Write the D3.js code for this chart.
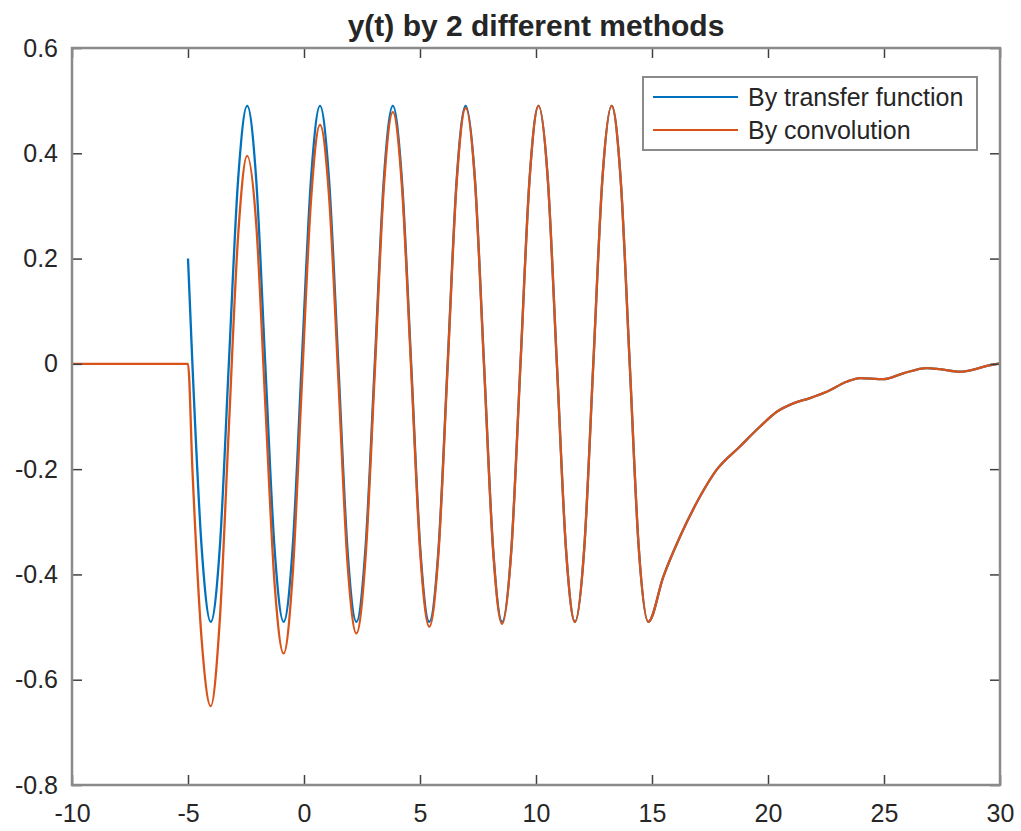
<!DOCTYPE html>
<html>
<head>
<meta charset="utf-8">
<script src="https://cdn.jsdelivr.net/npm/d3@7"></script>
<style>
  body { margin: 0; background: #fff; }
  text { font-family: "Liberation Sans", Arial, sans-serif; fill: #262626; }
</style>
</head>
<body>
<svg width="1021" height="831"></svg>
<script>
// chart text
var title = 'y(t) by 2 different methods';
var seriesNames = ['By transfer function', 'By convolution'];

// ticks
var xTicks = [-10, -5, 0, 5, 10, 15, 20, 25, 30];
var xTickLabels = ['-10', '-5', '0', '5', '10', '15', '20', '25', '30'];
var yTicks = [-0.8, -0.6, -0.4, -0.2, 0, 0.2, 0.4, 0.6];
var yTickLabels = ['-0.8', '-0.6', '-0.4', '-0.2', '0', '0.2', '0.4', '0.6'];

// y(t) by transfer function
var tTransfer = [-5, -4.81, -4.41, -4.02, -3.63, -3.24, -2.84, -2.45, -2.06, -1.67,
  -1.27, -0.88, -0.49, -0.10, 0.30, 0.69, 1.08, 1.48, 1.87, 2.26,
  2.65, 3.05, 3.44, 3.83, 4.22, 4.62, 5.01, 5.40, 5.80, 6.19,
  6.58, 6.97, 7.37, 7.76, 8.15, 8.54, 8.94, 9.33, 9.72, 10.11,
  10.51, 10.90, 11.29, 11.68, 12.08, 12.47, 12.86, 13.26, 13.65, 14.04,
  14.43, 14.84, 15.49, 16.21, 17.07, 17.79, 18.79, 19.66, 20.38, 21.09,
  21.81, 22.53, 23.39, 23.97, 24.97, 25.83, 26.84, 27.41, 28.28, 28.85,
  29.43, 30];
var yTransfer = [0.20, 0, -0.35, -0.49, -0.35, 0, 0.35, 0.49, 0.35, 0,
  -0.35, -0.49, -0.35, 0, 0.35, 0.49, 0.35, 0, -0.35, -0.49,
  -0.35, 0, 0.35, 0.49, 0.35, 0, -0.35, -0.49, -0.35, 0,
  0.35, 0.49, 0.35, 0, -0.35, -0.49, -0.35, 0, 0.35, 0.49,
  0.35, 0, -0.35, -0.49, -0.35, 0, 0.35, 0.49, 0.35, 0,
  -0.35, -0.49, -0.404, -0.328, -0.252, -0.201, -0.157, -0.119, -0.091, -0.075,
  -0.065, -0.053, -0.034, -0.027, -0.029, -0.018, -0.008, -0.010, -0.015, -0.011,
  -0.004, 0.001];

// y(t) by convolution
var tConv = [-10, -5, -4.81, -4.41, -4.02, -3.63, -3.24, -2.84, -2.45, -2.06, -1.67,
  -1.27, -0.88, -0.49, -0.10, 0.30, 0.69, 1.08, 1.48, 1.87, 2.26,
  2.65, 3.05, 3.44, 3.83, 4.22, 4.62, 5.01, 5.40, 5.80, 6.19,
  6.58, 6.97, 7.37, 7.76, 8.15, 8.54, 8.94, 9.33, 9.72, 10.11,
  10.51, 10.90, 11.29, 11.68, 12.08, 12.47, 12.86, 13.26, 13.65, 14.04,
  14.43, 14.84, 15.49, 16.21, 17.07, 17.79, 18.79, 19.66, 20.38, 21.09,
  21.81, 22.53, 23.39, 23.97, 24.97, 25.83, 26.84, 27.41, 28.28, 28.85,
  29.43, 30];
var yConv = [0, 0, -0.20, -0.525, -0.65, -0.487, -0.122, 0.243, 0.395, 0.266, -0.075,
  -0.416, -0.55, -0.402, -0.046, 0.309, 0.454, 0.318, -0.028, -0.375, -0.512,
  -0.37, -0.017, 0.335, 0.478, 0.338, -0.011, -0.359, -0.499, -0.357, -0.007,
  0.344, 0.486, 0.346, -0.004, -0.354, -0.494, -0.353, -0.002, 0.348, 0.49,
  0.35, 0, -0.35, -0.49, -0.35, 0, 0.35, 0.49, 0.35, 0,
  -0.35, -0.49, -0.404, -0.328, -0.252, -0.201, -0.157, -0.119, -0.091, -0.075,
  -0.065, -0.053, -0.034, -0.027, -0.029, -0.018, -0.008, -0.010, -0.015, -0.011,
  -0.004, 0.001];

var colors = ['#0072BD', '#D95319'];

var margin = {top: 48, right: 21, bottom: 46, left: 72};
var width = 1021;
var height = 831;

var svg = d3.select('svg');

var xScale = d3.scaleLinear()
  .domain([-10, 30])
  .range([margin.left, width - margin.right]);

var yScale = d3.scaleLinear()
  .domain([-0.8, 0.6])
  .range([height - margin.bottom, margin.top]);

var series = [
  {name: seriesNames[0], color: colors[0], points: tTransfer.map((t, i) => [t, yTransfer[i]])},
  {name: seriesNames[1], color: colors[1], points: tConv.map((t, i) => [t, yConv[i]])}
];

// lines
var line = d3.line()
  .x(d => xScale(d[0]))
  .y(d => yScale(d[1]))
  .curve(d3.curveMonotoneX);

svg.append('g')
  .selectAll('path')
  .data(series)
  .enter().append('path')
  .attr('d', d => line(d.points))
  .attr('fill', 'none')
  .attr('stroke', d => d.color)
  .attr('stroke-width', 2.3);

// axes, ticks pointing inward like matlab
var tickLen = 10;
function styleAxis(g) {
  g.select('.domain').remove();
  g.selectAll('.tick line').attr('stroke', '#404040').attr('stroke-width', 1.5);
  g.selectAll('.tick text').attr('fill', '#262626').style('font-size', '25px');
}

svg.append('g')
  .attr('transform', 'translate(' + [0, height - margin.bottom] + ')')
  .call(d3.axisBottom(xScale).tickValues(xTicks).tickFormat((d, i) => xTickLabels[i])
    .tickSizeInner(-tickLen).tickSizeOuter(0).tickPadding(19))
  .call(styleAxis);

svg.append('g')
  .attr('transform', 'translate(' + [0, margin.top] + ')')
  .call(d3.axisTop(xScale).tickValues(xTicks).tickFormat('')
    .tickSizeInner(-tickLen).tickSizeOuter(0))
  .call(styleAxis);

svg.append('g')
  .attr('transform', 'translate(' + [margin.left, 0] + ')')
  .call(d3.axisLeft(yScale).tickValues(yTicks).tickFormat((d, i) => yTickLabels[i])
    .tickSizeInner(-tickLen).tickSizeOuter(0).tickPadding(14))
  .call(styleAxis);

svg.append('g')
  .attr('transform', 'translate(' + [width - margin.right, 0] + ')')
  .call(d3.axisRight(yScale).tickValues(yTicks).tickFormat('')
    .tickSizeInner(-tickLen).tickSizeOuter(0))
  .call(styleAxis);

// box
svg.append('rect')
  .attr('x', margin.left)
  .attr('y', margin.top)
  .attr('width', width - margin.right - margin.left)
  .attr('height', height - margin.bottom - margin.top)
  .attr('fill', 'none')
  .attr('stroke', '#8a8a8a')
  .attr('stroke-width', 2.5);

// title
svg.append('text')
  .attr('x', (margin.left + width - margin.right) / 2)
  .attr('y', 36)
  .attr('text-anchor', 'middle')
  .style('font-size', '30px')
  .style('font-weight', 'bold')
  .attr('fill', '#000')
  .text(title);

// legend
var legend = svg.append('g');
legend.append('rect')
  .attr('x', 643)
  .attr('y', 77)
  .attr('width', 334)
  .attr('height', 73)
  .attr('fill', '#fff')
  .attr('stroke', '#8a8a8a')
  .attr('stroke-width', 2);

var entry = legend.selectAll('g.entry')
  .data(series)
  .enter().append('g')
  .attr('class', 'entry')
  .attr('transform', (d, i) => 'translate(' + [653, 97 + i * 33] + ')');

entry.append('line')
  .attr('x1', 0).attr('x2', 85)
  .attr('stroke', d => d.color)
  .attr('stroke-width', 2);

entry.append('text')
  .attr('x', 95)
  .attr('dy', '0.35em')
  .style('font-size', '25px')
  .text(d => d.name);
</script>
</body>
</html>
